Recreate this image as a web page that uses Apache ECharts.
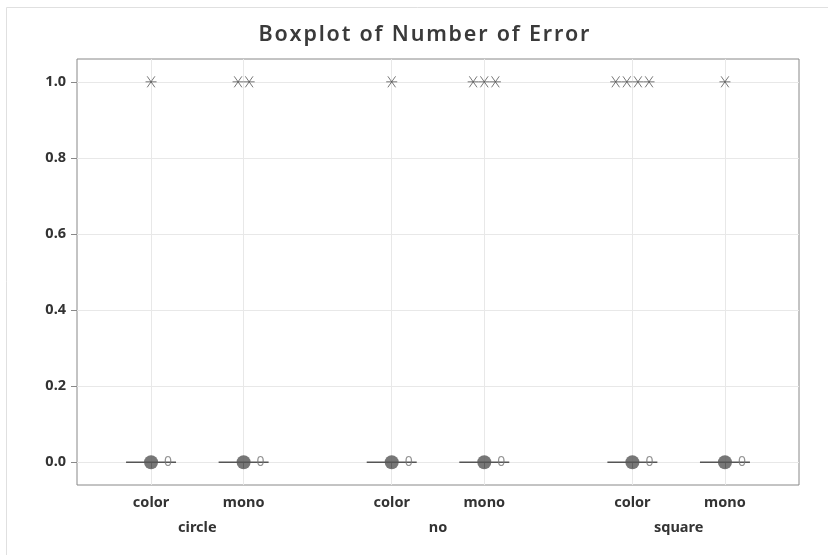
<!DOCTYPE html>
<html><head><meta charset="utf-8">
<script src="https://cdn.jsdelivr.net/npm/echarts@6/dist/echarts.min.js"></script>
<style>html,body{margin:0;padding:0;background:#fff}#c{width:828px;height:555px}</style>
</head><body><div id="c"></div>
<script>
const titleText = 'Boxplot of Number of Error';
const groups = ['circle', 'no', 'square'];
const types = ['color', 'mono'];
// box stats per cell: [min, q1, median, q3, max]
const boxStats = [[0,0,0,0,0],[0,0,0,0,0],[0,0,0,0,0],[0,0,0,0,0],[0,0,0,0,0],[0,0,0,0,0]];
const centers = [0, 0, 0, 0, 0, 0];
const centerLabels = ['0', '0', '0', '0', '0', '0'];
const outlierValues = [[1], [1, 1], [1], [1, 1, 1], [1, 1, 1, 1], [1]];
const yTicks = [0, 0.2, 0.4, 0.6, 0.8, 1.0];

// layout positions on the x value axis
const pos = [1, 2, 3.6, 4.6, 6.2, 7.2];
const groupPos = [1.5, 4.1, 6.7];
const halfW = 0.27;
const jit = 0.12;

const boxData = boxStats.map((s, i) => [pos[i]].concat(s));
const centerData = centers.map((v, i) => [pos[i], v, centerLabels[i]]);
const outData = [];
outlierValues.forEach((arr, i) => {
  arr.forEach((v, k) => outData.push([pos[i] + (k - (arr.length - 1) / 2) * jit, v]));
});

// letter-spaced rich title (each glyph padded)
const spaced = (s, key) => s.split('').map(c => c === ' ' ? `{${key}| }` : `{${key}|${c}}`).join('');

const chart = echarts.init(document.getElementById('c'));
const tickFont = { fontFamily: 'Noto Sans', fontWeight: 'bold', fontSize: 14.5, color: '#333' };
chart.setOption({
  animation: false,
  backgroundColor: '#fff',
  title: {
    text: spaced(titleText, 't'), left: 419, top: 19, textAlign: 'center',
    textStyle: {
      rich: { t: { fontFamily: 'Noto Sans', fontWeight: 600, fontSize: 21.5, color: '#3a3a3a', padding: [0, 0.9, 0, 0.9] } }
    }
  },
  graphic: [{ type: 'rect', shape: { x: 6.5, y: 7.5, width: 840, height: 600 }, style: { fill: 'none', stroke: '#e0e0e0', lineWidth: 1 }, silent: true }],
  grid: { left: 77, top: 59, right: 29, bottom: 70, show: true, borderColor: '#888', borderWidth: 1, backgroundColor: 'transparent' },
  xAxis: [{
    type: 'value', min: 0.2, max: 8.0,
    axisLine: { show: false },
    axisTick: { show: true, length: 6, customValues: pos, lineStyle: { color: '#888' } },
    axisLabel: { customValues: pos, formatter: (v) => types[pos.findIndex(p => Math.abs(p - v) < 1e-6) % 2], margin: 10, ...tickFont },
    splitLine: { show: true, lineStyle: { color: '#e8e8e8' } }
  }, {
    type: 'value', min: 0.2, max: 8.0, position: 'bottom', offset: 25,
    axisLine: { show: false }, axisTick: { show: false }, splitLine: { show: false },
    axisLabel: { customValues: groupPos, formatter: (v) => groups[groupPos.findIndex(p => Math.abs(p - v) < 1e-6)], margin: 10, ...tickFont }
  }],
  yAxis: {
    type: 'value', min: -0.06, max: 1.06,
    axisLine: { show: false },
    axisTick: { show: true, length: 6, customValues: yTicks, lineStyle: { color: '#888' } },
    axisLabel: { customValues: yTicks, formatter: (v) => v.toFixed(1), margin: 11, ...tickFont },
    splitLine: { show: true, lineStyle: { color: '#e8e8e8' } }
  },
  series: [{
    type: 'custom', xAxisIndex: 0, data: boxData, silent: true,
    renderItem: (params, api) => {
      const x = api.value(0);
      const a = api.coord([x - halfW, api.value(2)]);
      const b = api.coord([x + halfW, api.value(4)]);
      const lo = api.coord([x, api.value(1)]);
      const hi = api.coord([x, api.value(5)]);
      return { type: 'group', children: [
        { type: 'rect', shape: { x: a[0], y: b[1], width: b[0] - a[0], height: Math.max(a[1] - b[1], 0) }, style: { fill: 'none', stroke: '#555', lineWidth: 1.5 } },
        { type: 'line', shape: { x1: lo[0], y1: lo[1], x2: hi[0], y2: hi[1] }, style: { stroke: '#555', lineWidth: 1.2 } }
      ] };
    },
    z: 2
  }, {
    type: 'scatter', data: centerData, symbol: 'circle', symbolSize: 14,
    itemStyle: { color: '#555' },
    label: { show: true, position: 'right', distance: 6, formatter: (p) => p.value[2], fontFamily: 'Noto Sans', fontSize: 14, color: '#777' },
    silent: true, z: 3
  }, {
    type: 'scatter', data: outData,
    symbol: 'path://M0,5L10,5M1.5,0L8.5,10M8.5,0L1.5,10', symbolSize: 11,
    itemStyle: { color: 'none', borderColor: '#555', borderWidth: 1 },
    silent: true, z: 3
  }]
});
</script></body></html>
